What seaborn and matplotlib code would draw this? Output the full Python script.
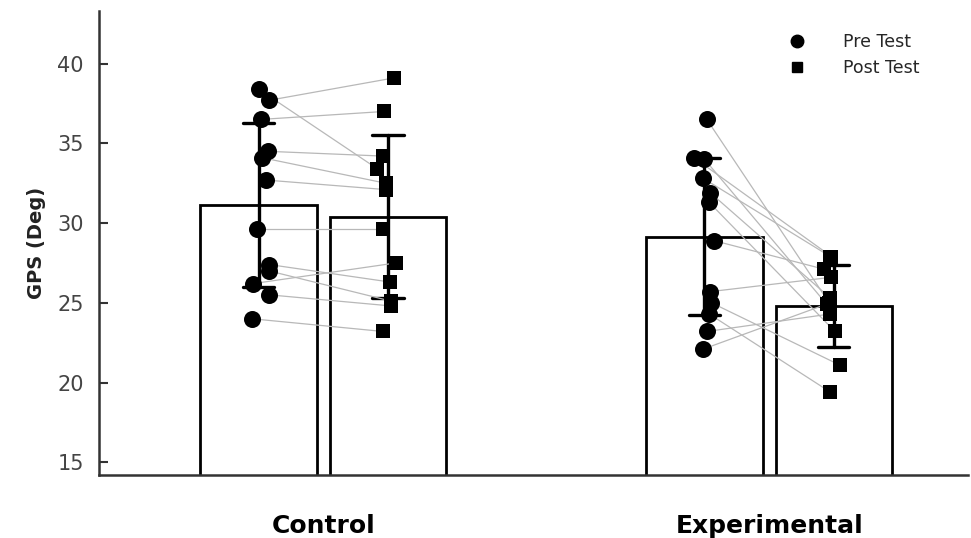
import numpy as np
import pandas as pd
import seaborn as sns
import matplotlib.pyplot as plt
from matplotlib.lines import Line2D

# categories
groups = ["Control", "Experimental"]
tests = ["Pre Test", "Post Test"]

# values per subject (same index = same subject, pre -> post)
control_pre = [38.4, 37.7, 36.5, 34.5, 34.1, 32.7, 29.6, 27.4, 27.0, 26.2, 25.5, 24.0]
control_post = [33.4, 39.1, 37.0, 34.2, 32.5, 32.1, 29.6, 26.3, 25.1, 27.5, 24.8, 23.2]
exp_pre = [36.5, 34.1, 34.0, 32.8, 31.9, 31.3, 28.9, 25.7, 25.0, 24.3, 23.2, 22.1]
exp_post = [25.0, 27.9, 24.9, 27.9, 25.3, 23.2, 27.1, 26.6, 21.1, 19.4, 24.3, 25.0]

# horizontal spread of the dots, as a fraction of one bar's width
control_pre_jit = [0.0, 0.09, 0.02, 0.08, 0.03, 0.06, -0.01, 0.09, 0.09, -0.05, 0.09, -0.06]
control_post_jit = [-0.09, 0.05, -0.03, -0.04, -0.02, -0.02, -0.04, 0.02, 0.03, 0.07, 0.03, -0.04]
exp_pre_jit = [0.02, -0.09, 0.0, -0.01, 0.05, 0.04, 0.08, 0.05, 0.06, 0.04, 0.02, -0.01]
exp_post_jit = [-0.04, -0.02, -0.06, -0.03, -0.03, 0.01, -0.08, -0.02, 0.05, -0.03, -0.03, -0.03]

rows = []
for g, pre, post in [("Control", control_pre, control_post), ("Experimental", exp_pre, exp_post)]:
    for v in pre:
        rows.append({"group": g, "test": "Pre Test", "gps": v})
    for v in post:
        rows.append({"group": g, "test": "Post Test", "gps": v})
df = pd.DataFrame(rows)

sns.set_style("ticks")
plt.rcParams["font.family"] = ["DejaVu Sans"]

fig = plt.figure(figsize=(9.71, 5.38), dpi=100)
ax = fig.add_axes([99 / 971, 63 / 538, 869 / 971, 464 / 538])

sns.barplot(data=df, x="group", y="gps", hue="test", order=groups, hue_order=tests,
            palette={"Pre Test": "white", "Post Test": "white"}, edgecolor="black",
            linewidth=2.0, errorbar="sd", capsize=0.14, width=0.58, gap=0.1,
            err_kws={"color": "black", "linewidth": 2.4}, legend=False, ax=ax)

# bar centres from the drawn bars: ctrl pre, ctrl post, exp pre, exp post
bars = sorted(ax.patches, key=lambda p: p.get_x())
centers = [b.get_x() + b.get_width() / 2 for b in bars]
bw = bars[0].get_width()

sets = [
    (control_pre, control_post, control_pre_jit, control_post_jit, centers[0], centers[1]),
    (exp_pre, exp_post, exp_pre_jit, exp_post_jit, centers[2], centers[3]),
]
for pre, post, jpre, jpost, cpre, cpost in sets:
    xpre = cpre + np.array(jpre) * bw
    xpost = cpost + np.array(jpost) * bw
    for i in range(len(pre)):
        ax.plot([xpre[i], xpost[i]], [pre[i], post[i]], color="#b8b8b8", lw=0.9, zorder=3)
    sns.scatterplot(x=xpre, y=pre, marker="o", s=150, color="black", linewidth=0, zorder=4, ax=ax)
    sns.scatterplot(x=xpost, y=post, marker="s", s=100, color="black", linewidth=0, zorder=4, ax=ax)

ax.set_xlim(-0.503, 1.446)
ax.set_ylim(14.2, 43.3)
ax.set_yticks([15, 20, 25, 30, 35, 40])
ax.set_xticks([0, 1])
ax.set_xticklabels(groups)

sns.despine(ax=ax)
for side in ["left", "bottom"]:
    ax.spines[side].set_linewidth(1.8)
    ax.spines[side].set_color("#333333")

ax.tick_params(axis="y", direction="in", length=6.5, width=1.5, color="#333333",
               labelsize=15, labelcolor="#444444", pad=11)
ax.tick_params(axis="x", length=0, labelsize=18, pad=28, labelcolor="black")
for lbl in ax.get_xticklabels():
    lbl.set_fontweight("bold")

ax.set_xlabel("")
ax.set_ylabel("GPS (Deg)", fontsize=14, fontweight="bold", labelpad=8, color="#222222")

handles = [
    Line2D([], [], marker="o", color="black", linestyle="none", markersize=9),
    Line2D([], [], marker="s", color="black", linestyle="none", markersize=7),
]
fig.legend(handles, tests, loc="upper left", bbox_to_anchor=(780 / 971, 1 - 33 / 538),
           frameon=False, fontsize=12.5, handletextpad=1.6, labelspacing=0.45,
           borderpad=0, borderaxespad=0)

fig.savefig("out.png", dpi=100)
